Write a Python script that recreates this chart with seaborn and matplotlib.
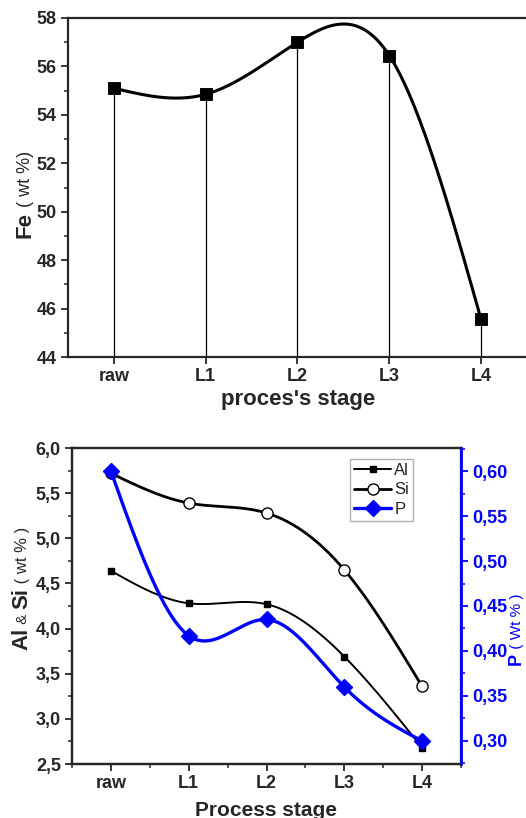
import numpy as np
import matplotlib
matplotlib.use("Agg")
from matplotlib import pyplot as plt
from matplotlib.ticker import MultipleLocator, FuncFormatter
from matplotlib.lines import Line2D
import seaborn as sns

# данные
stages = ['raw', 'L1', 'L2', 'L3', 'L4']
fe = [55.1, 54.85, 57.0, 56.45, 45.55]
al = [4.64, 4.28, 4.27, 3.69, 2.68]
si = [5.72, 5.39, 5.28, 4.65, 3.36]
p = [0.60, 0.417, 0.435, 0.36, 0.30]

sns.set_style("ticks")
plt.rcParams['font.family'] = ['Liberation Sans', 'DejaVu Sans']
plt.rcParams['axes.linewidth'] = 1.6


def natural_spline(y, n=300):
    # натуральный кубический сплайн через точки (как "spline" в Origin)
    y = np.asarray(y, float)
    x = np.arange(len(y), dtype=float)
    m = len(x)
    h = np.diff(x)
    A = np.zeros((m, m))
    b = np.zeros(m)
    A[0, 0] = A[-1, -1] = 1
    for i in range(1, m - 1):
        A[i, i - 1] = h[i - 1]
        A[i, i] = 2 * (h[i - 1] + h[i])
        A[i, i + 1] = h[i]
        b[i] = 3 * ((y[i + 1] - y[i]) / h[i] - (y[i] - y[i - 1]) / h[i - 1])
    c = np.linalg.solve(A, b)
    xs = np.linspace(x[0], x[-1], n)
    idx = np.clip(np.searchsorted(x, xs) - 1, 0, m - 2)
    dx = xs - x[idx]
    bb = (y[1:] - y[:-1]) / h - h * (2 * c[:-1] + c[1:]) / 3
    d = (c[1:] - c[:-1]) / (3 * h)
    ys = y[idx] + bb[idx] * dx + c[idx] * dx ** 2 + d[idx] * dx ** 3
    return xs, ys


def comma(fmt):
    return FuncFormatter(lambda v, pos: format(v, fmt).replace('.', ','))


def stacked_label(fig, x, y, parts):
    # подпись оси из кусков разного шрифта, повёрнутая на 90 градусов
    renderer = fig.canvas.get_renderer()
    for s, kw in parts:
        t = fig.text(x / fig.bbox.width, y / fig.bbox.height, s, rotation=90,
                     rotation_mode='anchor', ha='left', va='baseline', **kw)
        ext = t.get_window_extent(renderer)
        y += ext.height


W, H = 526, 818
fig = plt.figure(figsize=(W / 100, H / 100), dpi=100)

# ---------- верхний график: Fe ----------
ax1 = fig.add_axes([68 / W, 1 - 357 / H, (527 - 68) / W, (357 - 18) / H])
xs, ys = natural_spline(fe)
sns.lineplot(x=xs, y=ys, ax=ax1, color='black', lw=2.2, sort=False)
ax1.vlines(range(len(fe)), 44, fe, color='black', lw=0.9)
sns.scatterplot(x=range(len(fe)), y=fe, ax=ax1, marker='s', s=65, color='black',
                edgecolor='black', zorder=5)
ax1.set_xlim(-0.5, 4.5)
ax1.set_ylim(44, 58)
ax1.spines['right'].set_visible(False)
ax1.set_xticks(range(len(stages)))
ax1.set_xticklabels(stages)
ax1.yaxis.set_major_locator(MultipleLocator(2))
ax1.yaxis.set_minor_locator(MultipleLocator(1))
ax1.tick_params(axis='both', which='major', direction='out', length=5, width=1.3,
                labelsize=13, pad=3)
ax1.tick_params(axis='y', which='minor', direction='out', length=3, width=1.1)
for lab in ax1.get_xticklabels() + ax1.get_yticklabels():
    lab.set_fontweight('bold')
ax1.set_xlabel('')
ax1.set_ylabel('')
fig.text(298 / W, 1 - 400 / H, "proces's stage", ha='center', va='center',
         fontsize=16, fontweight='bold')

# ---------- нижний график: Al, Si, P ----------
ax2 = fig.add_axes([72 / W, 1 - 764 / H, (461 - 72) / W, (764 - 448) / H])
ax3 = ax2.twinx()

xs, ys = natural_spline(al)
sns.lineplot(x=xs, y=ys, ax=ax2, color='black', lw=1.4, sort=False)
ax2.plot(range(len(al)), al, ls='none', marker='s', ms=5, color='black', zorder=5)
xs, ys = natural_spline(si)
sns.lineplot(x=xs, y=ys, ax=ax2, color='black', lw=2.0, sort=False)
ax2.plot(range(len(si)), si, ls='none', marker='o', ms=8, mfc='white',
         mec='black', mew=1.0, zorder=5)
xs, ys = natural_spline(p)
sns.lineplot(x=xs, y=ys, ax=ax3, color='#0000ff', lw=2.4, sort=False)
ax3.plot(range(len(p)), p, ls='none', marker='D', ms=8, color='#0000ff', zorder=6)

ax2.set_xlim(-0.5, 4.5)
ax2.set_ylim(2.5, 6.0)
ax3.set_ylim(0.2744, 0.6256)
ax2.set_xticks(range(len(stages)))
ax2.set_xticklabels(stages)
ax2.xaxis.set_minor_locator(MultipleLocator(0.5))
ax2.yaxis.set_major_locator(MultipleLocator(0.5))
ax2.yaxis.set_minor_locator(MultipleLocator(0.25))
ax2.yaxis.set_major_formatter(comma('.1f'))
ax3.yaxis.set_major_locator(MultipleLocator(0.05))
ax3.yaxis.set_minor_locator(MultipleLocator(0.025))
ax3.yaxis.set_major_formatter(comma('.2f'))
ax2.tick_params(axis='both', which='major', direction='out', length=5, width=1.3,
                labelsize=13, pad=3)
ax2.tick_params(axis='both', which='minor', direction='out', length=3, width=1.1)
ax3.tick_params(axis='y', which='major', direction='out', length=5, width=1.3,
                labelsize=13, pad=3, colors='#0000ff')
ax3.tick_params(axis='y', which='minor', direction='out', length=3, width=1.1,
                colors='#0000ff')
ax3.spines['right'].set_color('#0000ff')
ax3.spines['right'].set_linewidth(2.0)
for lab in ax2.get_xticklabels() + ax2.get_yticklabels() + ax3.get_yticklabels():
    lab.set_fontweight('bold')
ax2.set_xlabel('')
ax2.set_ylabel('')
ax3.set_ylabel('')

handles = [
    Line2D([], [], color='black', lw=1.4, marker='s', ms=5),
    Line2D([], [], color='black', lw=2.0, marker='o', ms=8, mfc='white', mec='black'),
    Line2D([], [], color='#0000ff', lw=2.4, marker='D', ms=8),
]
leg = ax2.legend(handles, ['Al', 'Si', 'P'], loc='upper left',
                 bbox_to_anchor=(0.715, 0.965), fontsize=12, handlelength=2.2,
                 handletextpad=0.2, labelspacing=0.25, borderpad=0.25,
                 borderaxespad=0, fancybox=False, framealpha=1)
leg.get_frame().set_edgecolor('#b0b0b0')
leg.get_frame().set_linewidth(1.0)

fig.text(266 / W, 1 - 810 / H, 'Process stage', ha='center', va='center',
         fontsize=15, fontweight='bold')

# подписи осей Y из нескольких кусков
stacked_label(fig, 30, H - 238, [
    ('Fe', dict(fontsize=16, fontweight='bold')),
    (' ( wt %)', dict(fontsize=13)),
])
stacked_label(fig, 27, H - 650, [
    ('Al', dict(fontsize=16, fontweight='bold')),
    (' & ', dict(fontsize=11)),
    ('Si', dict(fontsize=16, fontweight='bold')),
    (' ( wt % )', dict(fontsize=12)),
])
stacked_label(fig, 521, H - 665, [
    ('P', dict(fontsize=13, fontweight='bold', color='#0000ff')),
    (' ( Wt % )', dict(fontsize=11, color='#0000ff')),
])

fig.savefig('out.png', dpi=100)
